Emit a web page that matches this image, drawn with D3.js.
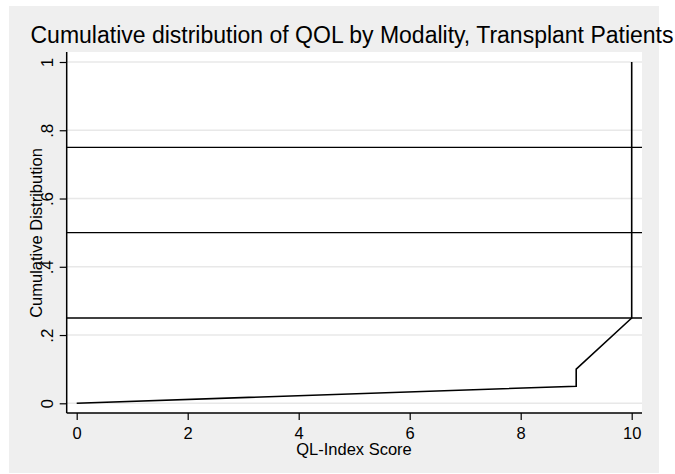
<!DOCTYPE html>
<html lang="en">
<head>
<meta charset="UTF-8" />
<title>Cumulative distribution of QOL</title>
<script src="https://cdn.jsdelivr.net/npm/d3@7"></script>
<style>
  body { margin: 0; background: #fff; }
  svg { display: block; font-family: "Liberation Sans", Arial, sans-serif; }
</style>
</head>
<body>
<div class="chart"></div>
<script>
// data
var qlScore = [0, 9, 9, 10, 10]
var cumDist = [0, 0.05, 0.1, 0.25, 1]
var refLines = [0.25, 0.5, 0.75]
var xTicks = [0, 2, 4, 6, 8, 10]
var yTicks = [0, 0.2, 0.4, 0.6, 0.8, 1]
var yTickLabels = ['0', '.2', '.4', '.6', '.8', '1']

var W = 675, H = 474
var plot = { left: 66.7, right: 642, top: 52, bottom: 413 }
var FONT = '"Liberation Sans", Arial, sans-serif'

var svg = d3.select('.chart').append('svg').attr('width', W).attr('height', H)

// gray graph region
svg.append('rect').attr('x', 9).attr('y', 6).attr('width', 650).attr('height', 467).attr('fill', '#efefef')
// white plot region
svg.append('rect')
  .attr('x', plot.left).attr('y', plot.top)
  .attr('width', plot.right - plot.left).attr('height', plot.bottom - plot.top)
  .attr('fill', '#fff')

var x = d3.scaleLinear().domain([0, 10]).range([76.7, 631.7])
var y = d3.scaleLinear().domain([0, 1]).range([403.3, 62])

// gridlines
svg.append('g').selectAll('line').data(yTicks).join('line')
  .attr('x1', plot.left).attr('x2', plot.right)
  .attr('y1', d => y(d)).attr('y2', d => y(d))
  .attr('stroke', '#e8e8e8').attr('stroke-width', 1.5)

// reference lines
svg.append('g').selectAll('line').data(refLines).join('line')
  .attr('x1', plot.left).attr('x2', plot.right)
  .attr('y1', d => y(d)).attr('y2', d => y(d))
  .attr('stroke', '#000').attr('stroke-width', 1.4)

// axes
var xAxis = svg.append('g').attr('transform', 'translate(0,' + plot.bottom + ')')
  .call(d3.axisBottom(x).tickValues(xTicks).tickSize(7).tickPadding(7).tickFormat(d3.format('d')))
xAxis.select('.domain').attr('d', 'M' + plot.left + ',0H' + plot.right).attr('stroke-width', 1.5)
xAxis.selectAll('.tick line').attr('stroke-width', 1.2)
xAxis.selectAll('text').attr('font-size', 16.5).attr('fill', '#000').attr('font-family', FONT)

var yAxis = svg.append('g').attr('transform', 'translate(' + plot.left + ',0)')
  .call(d3.axisLeft(y).tickValues(yTicks).tickSize(7).tickFormat((d, i) => yTickLabels[i]))
yAxis.select('.domain').attr('d', 'M0,' + plot.top + 'V' + plot.bottom).attr('stroke-width', 1.5)
yAxis.selectAll('.tick line').attr('stroke-width', 1.2)
yAxis.selectAll('text')
  .attr('x', null).attr('dy', null)
  .attr('transform', 'translate(-13.5,0) rotate(-90)')
  .attr('text-anchor', 'middle')
  .attr('font-size', 17).attr('fill', '#000').attr('font-family', FONT)

// the cdf line
var line = d3.line().x(d => x(d[0])).y(d => y(d[1]))
svg.append('path')
  .datum(qlScore.map((v, i) => [v, cumDist[i]]))
  .attr('d', line)
  .attr('fill', 'none').attr('stroke', '#000').attr('stroke-width', 1.6)

// titles
svg.append('text').attr('x', 352).attr('y', 43).attr('text-anchor', 'middle')
  .attr('font-size', 23).attr('fill', '#000')
  .text('Cumulative distribution of QOL by Modality, Transplant Patients')

svg.append('text').attr('x', 354).attr('y', 455).attr('text-anchor', 'middle')
  .attr('font-size', 16.5).attr('fill', '#000')
  .text('QL-Index Score')

svg.append('text').attr('transform', 'translate(42,233) rotate(-90)').attr('text-anchor', 'middle')
  .attr('font-size', 16.5).attr('fill', '#000')
  .text('Cumulative Distribution')
</script>
</body>
</html>
